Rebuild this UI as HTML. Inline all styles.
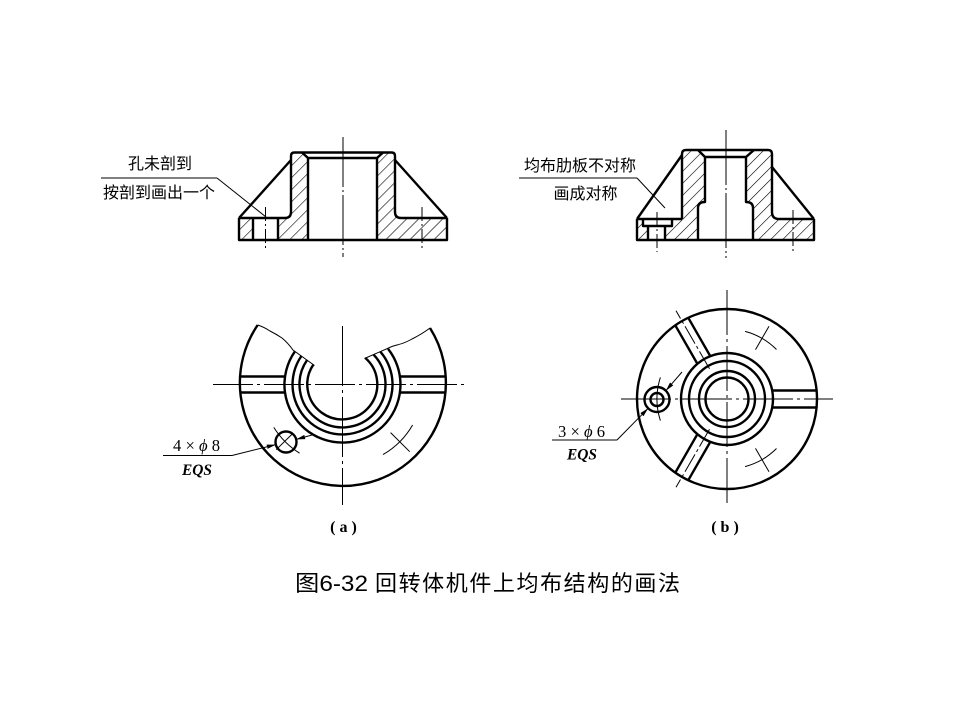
<!DOCTYPE html>
<html>
<head>
<meta charset="utf-8">
<style>
  html,body{margin:0;padding:0;background:#fff;}
  svg{display:block;}
  .cjk{font-family:"Liberation Sans","Noto Sans CJK SC",sans-serif;}
  .ser{font-family:"Liberation Serif","DejaVu Serif",serif;}
</style>
</head>
<body>
<svg width="960" height="720" viewBox="0 0 960 720" xmlns="http://www.w3.org/2000/svg">
  <defs>
    <pattern id="h" patternUnits="userSpaceOnUse" width="8.5" height="8.5" patternTransform="rotate(45)">
      <line x1="0" y1="-1" x2="0" y2="10" stroke="#000" stroke-width="1.2"/>
    </pattern>
    <marker id="arr" markerWidth="10" markerHeight="6" refX="9" refY="3" orient="auto" markerUnits="userSpaceOnUse">
      <path d="M0,0.8 L9,3 L0,5.2 Z" fill="#000"/>
    </marker>
  </defs>
  <rect width="960" height="720" fill="#fff"/>

  <!-- ============ TOP LEFT (a) section ============ -->
  <g>
    <path d="M291,156 Q291,152.5 294.5,152.5 L302,152.5 L308,158 L308,240 L278,240 L278,218 L285,218 Q291,218 291,212 Z" fill="url(#h)"/>
    <path d="M239,218 L253,218 L253,240 L239,240 Z" fill="url(#h)"/>
    <path d="M377,158 L383,152.5 L391.5,152.5 Q395,152.5 395,156 L395,212 Q395,218 401,218 L447,218 L447,240 L377,240 Z" fill="url(#h)"/>
    <g fill="none" stroke="#000" stroke-width="2.4" stroke-linejoin="round">
      <path d="M239,218 L239,240 L447,240 L447,218"/>
      <path d="M239,218 L285,218 Q291,218 291,212 L291,156 Q291,152.5 294.5,152.5 L391.5,152.5 Q395,152.5 395,156 L395,212 Q395,218 401,218 L447,218"/>
      <path d="M239,218 L291,160"/>
      <path d="M395,160 L447,218"/>
      <path d="M302,152.5 L308,158 L377,158 L383,152.5"/>
      <path d="M308,158 L308,240 M377,158 L377,240"/>
      <path d="M253,218 L253,240 M278,218 L278,240"/>
    </g>
    <g stroke="#000" stroke-width="1" fill="none">
      <line x1="343" y1="137" x2="343" y2="257" stroke-dasharray="50 3 2 3"/>
      <line x1="265.5" y1="207" x2="265.5" y2="250" stroke-dasharray="14 3 2 3"/>
      <line x1="422" y1="207" x2="422" y2="250" stroke-dasharray="14 3 2 3"/>
      <line x1="101" y1="178" x2="217" y2="178"/>
      <line x1="217" y1="178" x2="266" y2="217"/>
    </g>
    <text class="cjk" x="160" y="169" font-size="16" text-anchor="middle">孔未剖到</text>
    <text class="cjk" x="159" y="198" font-size="16" text-anchor="middle">按剖到画出一个</text>
  </g>

  <!-- ============ TOP RIGHT (b) section ============ -->
  <g>
    <path d="M682,154 Q682,150 686,150 L698,150 L705,157 L705,202 Q698,202 698,208 L698,240 L665,240 L665,226 L672,226 L672,219 L682,219 Z" fill="url(#h)"/>
    <path d="M637,219 L643,219 L643,226 L648,226 L648,240 L637,240 Z" fill="url(#h)"/>
    <path d="M754,150 L768,150 Q772,150 772,154 L772,212 Q772,219 779,219 L814,219 L814,240 L753,240 L753,208 Q753,202 746,202 L746,157 Z" fill="url(#h)"/>
    <g fill="none" stroke="#000" stroke-width="2.4" stroke-linejoin="round">
      <path d="M637,219 L637,240 L814,240 L814,219"/>
      <path d="M637,219 L682,219"/>
      <path d="M682,219 L682,154 Q682,150 686,150 L768,150 Q772,150 772,154 L772,212 Q772,219 779,219 L814,219"/>
      <path d="M637,219 L682,155"/>
      <path d="M772,167 L814,219"/>
      <path d="M698,150 L705,157 L746,157 L754,150"/>
      <path d="M705,157 L705,202 Q698,202 698,208 L698,240"/>
      <path d="M746,157 L746,202 Q753,202 753,208 L753,240"/>
      <path d="M643,219 L643,226 L672,226 L672,219"/>
      <path d="M648,226 L648,240 M665,226 L665,240"/>
    </g>
    <g stroke="#000" stroke-width="1" fill="none">
      <line x1="726" y1="130" x2="726" y2="258" stroke-dasharray="55 3 2 3"/>
      <line x1="657" y1="212" x2="657" y2="252" stroke-dasharray="14 3 2 3"/>
      <line x1="793" y1="210" x2="793" y2="251" stroke-dasharray="14 3 2 3"/>
      <line x1="519" y1="178" x2="637" y2="178"/>
      <line x1="637" y1="178" x2="665" y2="208"/>
    </g>
    <text class="cjk" x="580" y="171" font-size="16" text-anchor="middle">均布肋板不对称</text>
    <text class="cjk" x="585.5" y="199" font-size="16" text-anchor="middle">画成对称</text>
  </g>

  <!-- ============ BOTTOM LEFT (a) plan ============ -->
  <g>
    <g fill="none" stroke="#000" stroke-width="2.4">
      <path d="M257.7,325 A103,103 0 1 0 430,328"/>
      <path d="M294.9,351.4 A58,58 0 1 0 388,348.7"/>
      <path d="M301.4,356 A50,50 0 1 0 380.4,351.8"/>
      <path d="M307.1,360 A43,43 0 1 0 373.5,354.6"/>
      <path d="M313.4,364.6 A35,35 0 1 0 365.2,357.9"/>
      <path d="M239.8,376.5 L285.1,376.5 M239.8,392.5 L285.1,392.5"/>
      <path d="M399.9,376.5 L445.2,376.5 M399.9,392.5 L445.2,392.5"/>
      <circle cx="286" cy="442" r="10.5"/>
    </g>
    <g fill="none" stroke="#000" stroke-width="1">
      <path d="M257.7,325 Q264,327 270,331 Q276,334 282,338 Q288,343 293,350 L314.5,365.5"/>
      <path d="M430,328 Q422,334 412,339 Q405,343 398,344.7 Q392,346 387,348.7 L364.5,358.5"/>
      <line x1="213" y1="384.5" x2="465" y2="384.5" stroke-dasharray="40 4 3 4"/>
      <line x1="342.5" y1="326" x2="342.5" y2="505" stroke-dasharray="60 4 3 4"/>
      <path d="M299.6,453.2 A81,81 0 0 1 273.8,427.4"/>
      <line x1="292.6" y1="433.6" x2="276.2" y2="449.7"/>
      <path d="M412.6,425 A81,81 0 0 1 383,454.6"/>
      <line x1="390.6" y1="432.6" x2="409.7" y2="451.7"/>
      <line x1="163" y1="455.5" x2="232" y2="455.5"/>
      <line x1="232" y1="455.5" x2="275.8" y2="444.6" marker-end="url(#arr)"/>
      <line x1="312" y1="435" x2="296.2" y2="439.4" marker-end="url(#arr)"/>
    </g>
    <text class="ser" x="173" y="451" font-size="17" textLength="47" lengthAdjust="spacingAndGlyphs">4 × <tspan font-style="italic">ϕ</tspan> 8</text>
    <text class="ser" x="182" y="475" font-size="16" font-style="italic" font-weight="bold" textLength="30" lengthAdjust="spacingAndGlyphs">EQS</text>
    <text class="ser" x="343.5" y="532" font-size="16" font-weight="bold" text-anchor="middle">( a )</text>
  </g>

  <!-- ============ BOTTOM RIGHT (b) plan ============ -->
  <g>
    <g fill="none" stroke="#000" stroke-width="2.4">
      <circle cx="727" cy="399" r="90"/>
      <circle cx="727" cy="399" r="46"/>
      <circle cx="727" cy="399" r="38"/>
      <circle cx="727" cy="399" r="28"/>
      <circle cx="727" cy="399" r="21.5"/>
      <path d="M772.2,390.5 L816.6,390.5 M772.2,407.5 L816.6,407.5"/>
      <path d="M710.5,356.5 L688.5,318.2 M697.5,364 L675.5,325.7"/>
      <path d="M710.5,441.5 L688.5,479.8 M697.5,434 L675.5,472.3"/>
      <circle cx="657" cy="399.5" r="12.5"/>
      <circle cx="657" cy="399.5" r="6.5"/>
    </g>
    <g fill="none" stroke="#000" stroke-width="1">
      <line x1="621" y1="399" x2="833" y2="399" stroke-dasharray="50 4 3 4"/>
      <line x1="727" y1="290" x2="727" y2="505" stroke-dasharray="45 4 3 4"/>
      <line x1="709.5" y1="368.7" x2="676" y2="310.7" stroke-dasharray="20 3 3 3"/>
      <line x1="709.5" y1="429.3" x2="676" y2="487.3" stroke-dasharray="20 3 3 3"/>
      <path d="M660.4,377.4 A70,70 0 0 0 660.4,420.6"/>
      <path d="M745.1,331.4 A70,70 0 0 1 776.5,349.5"/>
      <line x1="755.5" y1="349.6" x2="769" y2="326.3"/>
      <path d="M745.1,466.6 A70,70 0 0 0 776.5,448.5"/>
      <line x1="755.5" y1="448.4" x2="769" y2="471.7"/>
      <line x1="552" y1="440" x2="617" y2="440"/>
      <line x1="617" y1="440" x2="648.2" y2="408.3" marker-end="url(#arr)"/>
      <line x1="682" y1="372" x2="665.8" y2="390.7" marker-end="url(#arr)"/>
    </g>
    <text class="ser" x="558" y="437" font-size="17" textLength="47" lengthAdjust="spacingAndGlyphs">3 × <tspan font-style="italic">ϕ</tspan> 6</text>
    <text class="ser" x="567" y="459.5" font-size="16" font-style="italic" font-weight="bold" textLength="30" lengthAdjust="spacingAndGlyphs">EQS</text>
    <text class="ser" x="725" y="532" font-size="16" font-weight="bold" text-anchor="middle">( b )</text>
  </g>

  <!-- ============ Caption ============ -->
  <text class="cjk" x="295" y="591" font-size="22" textLength="73" lengthAdjust="spacingAndGlyphs">图6-32</text>
  <text class="cjk" x="375" y="591" font-size="22" textLength="305" lengthAdjust="spacing">回转体机件上均布结构的画法</text>
</svg>
</body>
</html>
